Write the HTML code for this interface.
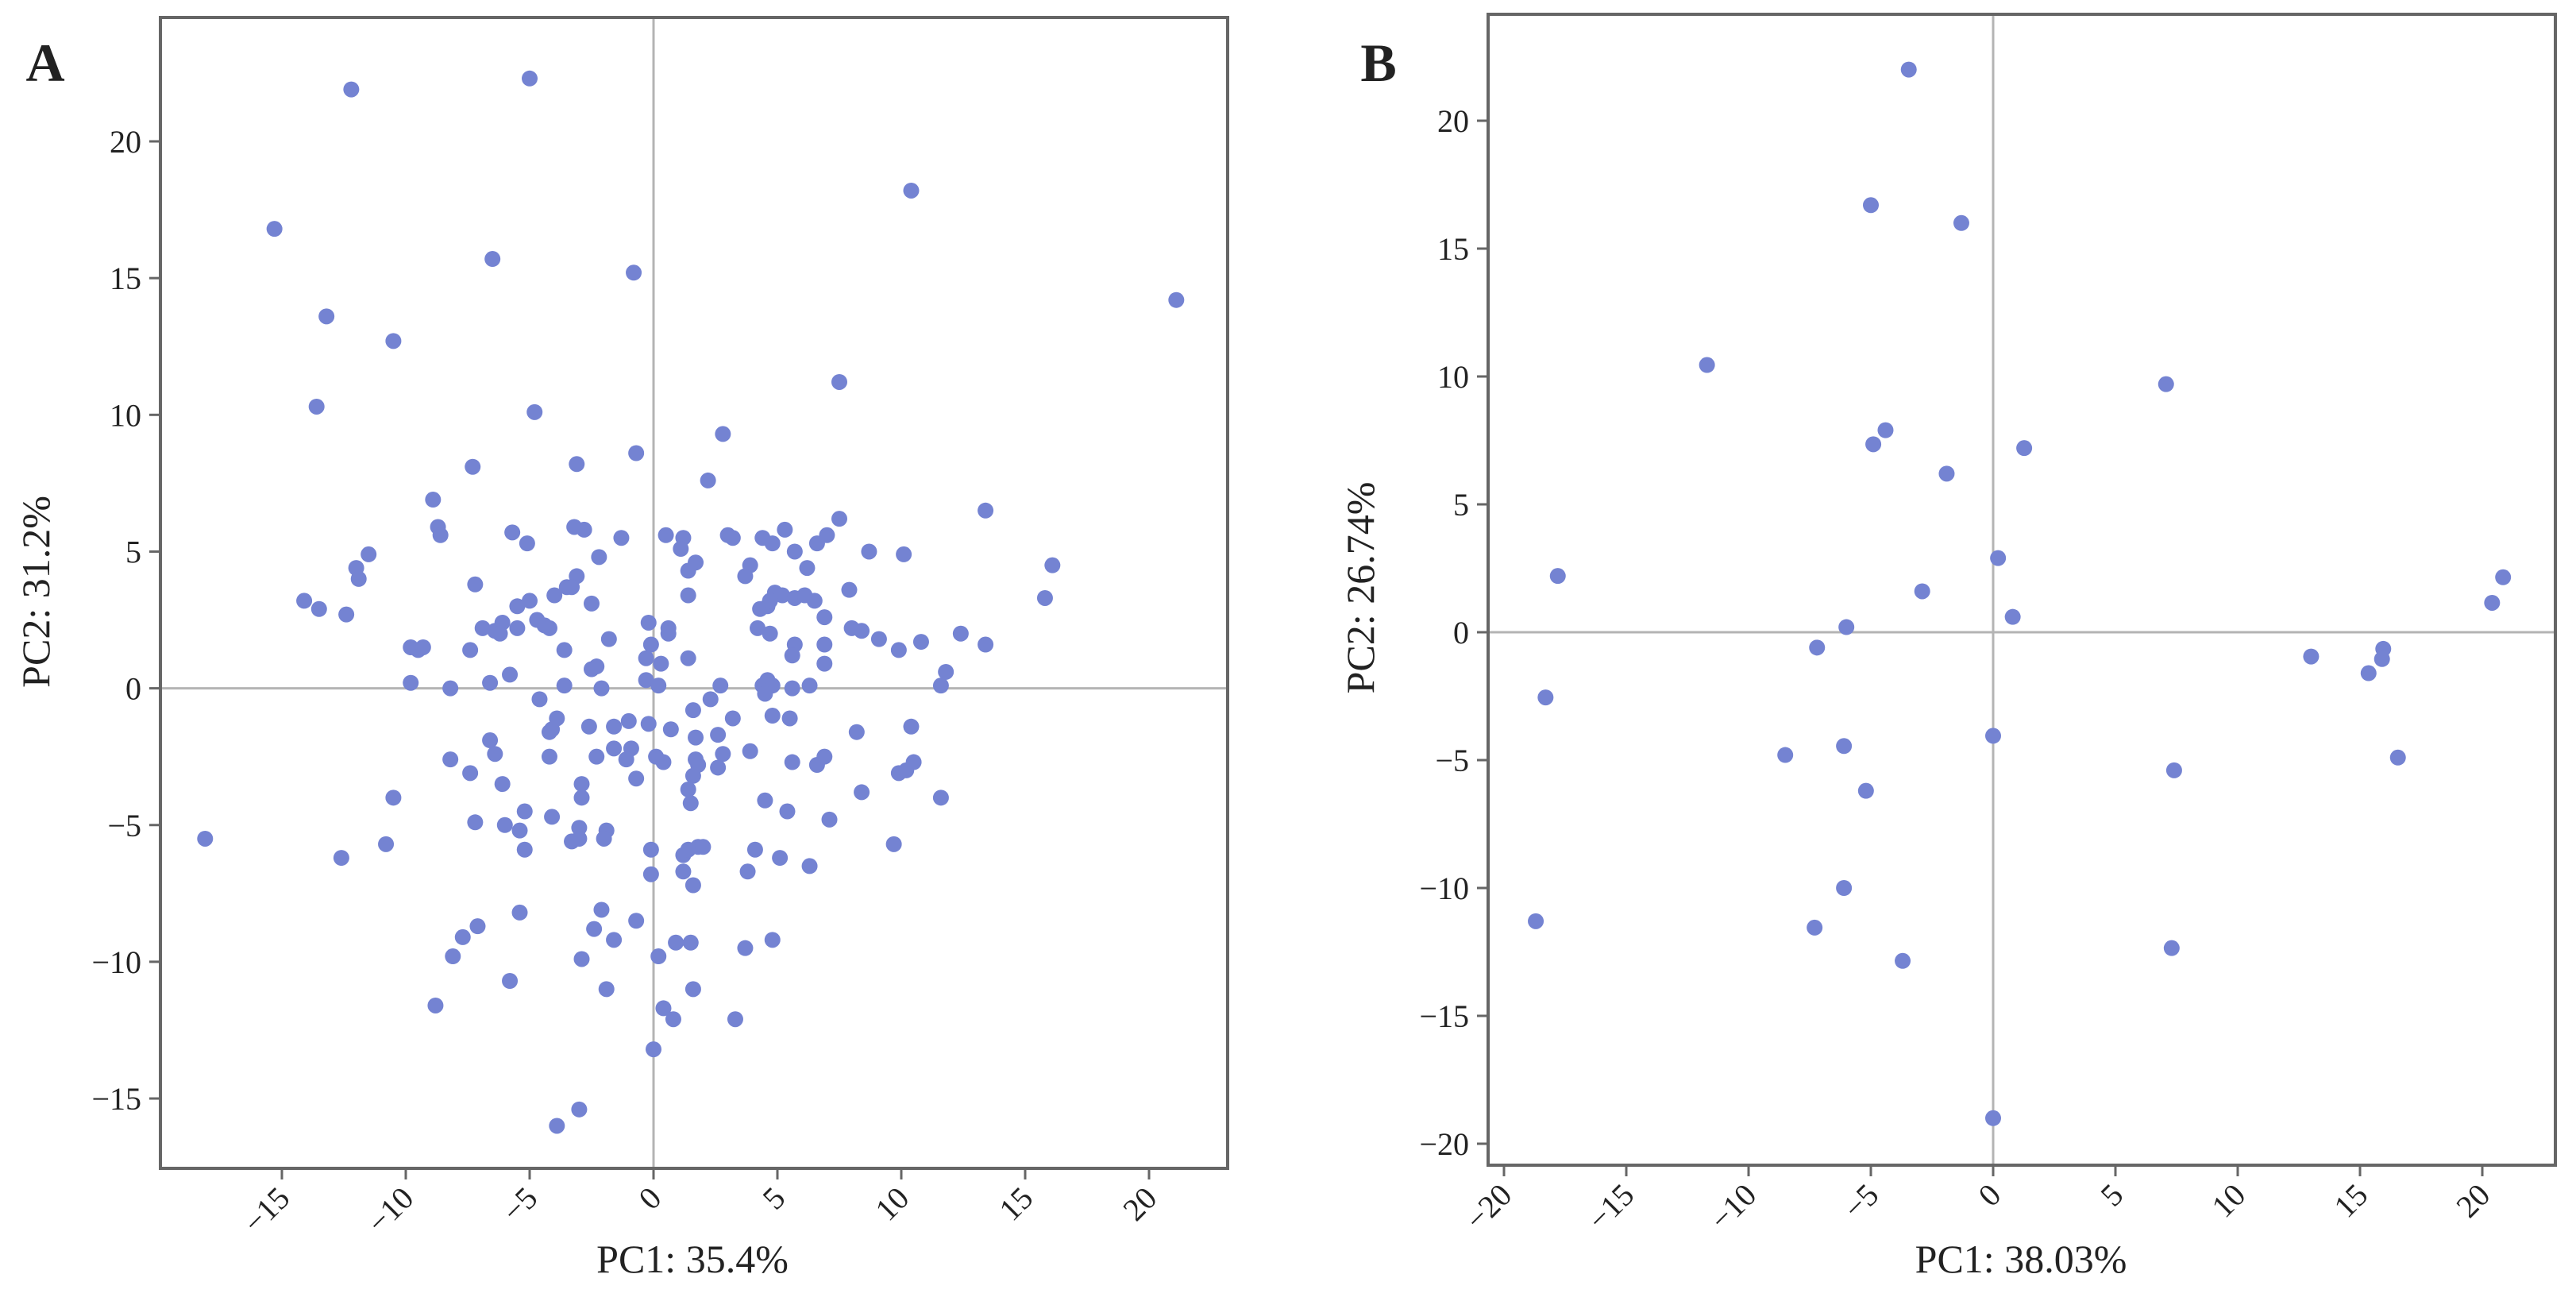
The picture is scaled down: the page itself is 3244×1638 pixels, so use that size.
<!DOCTYPE html>
<html><head><meta charset="utf-8"><style>
html,body{margin:0;padding:0;background:#fff}
svg text{font-family:"Liberation Serif",serif;fill:#222}
</style></head><body>
<svg id="fig" width="3244" height="1633" viewBox="0 0 3244 1633" xmlns="http://www.w3.org/2000/svg"></svg>
<script>
const aX=[-12.2,-5.0,-15.3,-6.5,-0.8,-13.2,-10.5,-13.6,-4.8,10.4,21.1,7.5,2.8,-0.7,-3.1,-7.3,2.2,-8.9,-8.7,-8.6,-11.5,-12.0,-11.9,-14.1,-13.5,-12.4,-7.2,-5.7,-5.1,-3.2,-2.8,-2.2,-1.3,0.5,1.2,1.1,1.7,1.4,1.4,3.0,3.2,3.9,3.7,4.4,4.8,5.3,5.7,6.2,6.6,7.0,7.5,8.7,10.1,13.4,16.1,15.8,7.9,6.9,8.0,8.4,9.1,9.9,10.8,12.4,13.4,11.8,11.6,6.9,6.9,6.3,5.7,5.6,4.9,5.2,5.7,6.1,6.5,4.3,4.6,4.7,4.2,4.7,4.4,4.6,4.8,4.5,5.6,2.7,-0.2,0.6,0.6,-0.1,-0.3,0.3,1.4,-0.3,0.2,-1.8,-2.5,-2.3,-2.1,-3.6,-3.6,-2.5,-3.1,-3.5,-3.3,-4.0,-5.0,-5.5,-5.5,-4.7,-4.4,-4.2,-6.1,-6.4,-6.2,-6.9,-7.4,-9.8,-9.5,-9.3,-9.8,-8.2,-6.6,-5.8,-4.6,-3.9,-4.1,-4.2,-4.2,-6.6,-6.4,-8.2,-7.4,-6.1,-2.6,-1.6,-1.0,-0.2,-1.6,-2.3,-0.9,-1.1,-0.7,-2.9,-2.9,0.1,0.4,0.7,1.6,1.7,2.3,3.2,2.6,2.8,2.6,1.7,1.8,1.6,1.4,1.5,3.9,4.8,5.5,5.6,6.6,6.9,8.2,10.4,9.9,10.2,10.5,11.6,8.4,7.1,4.5,5.4,5.1,6.3,4.1,3.8,9.7,4.8,3.7,3.3,1.5,0.9,1.6,0.2,0.4,0.8,0.0,-0.1,-0.1,1.2,1.4,1.8,2.0,1.2,1.6,-0.7,-2.1,-1.9,-2.0,-3.0,-3.0,-3.3,-4.1,-5.2,-5.4,-5.2,-6.0,-7.2,-10.5,-10.8,-12.6,-18.1,-5.4,-7.1,-7.7,-8.1,-5.8,-8.8,-2.4,-1.6,-2.9,-1.9,-3.0,-3.9];
const aY=[21.9,22.3,16.8,15.7,15.2,13.6,12.7,10.3,10.1,18.2,14.2,11.2,9.3,8.6,8.2,8.1,7.6,6.9,5.9,5.6,4.9,4.4,4.0,3.2,2.9,2.7,3.8,5.7,5.3,5.9,5.8,4.8,5.5,5.6,5.5,5.1,4.6,4.3,3.4,5.6,5.5,4.5,4.1,5.5,5.3,5.8,5.0,4.4,5.3,5.6,6.2,5.0,4.9,6.5,4.5,3.3,3.6,2.6,2.2,2.1,1.8,1.4,1.7,2.0,1.6,0.6,0.1,1.6,0.9,0.1,1.6,1.2,3.5,3.4,3.3,3.4,3.2,2.9,3.0,3.2,2.2,2.0,0.1,0.3,0.1,-0.2,0.0,0.1,2.4,2.2,2.0,1.6,1.1,0.9,1.1,0.3,0.1,1.8,0.7,0.8,0.0,1.4,0.1,3.1,4.1,3.7,3.7,3.4,3.2,3.0,2.2,2.5,2.3,2.2,2.4,2.1,2.0,2.2,1.4,1.5,1.4,1.5,0.2,0.0,0.2,0.5,-0.4,-1.1,-1.5,-1.6,-2.5,-1.9,-2.4,-2.6,-3.1,-3.5,-1.4,-1.4,-1.2,-1.3,-2.2,-2.5,-2.2,-2.6,-3.3,-3.5,-4.0,-2.5,-2.7,-1.5,-0.8,-1.8,-0.4,-1.1,-1.7,-2.4,-2.9,-2.6,-2.8,-3.2,-3.7,-4.2,-2.3,-1.0,-1.1,-2.7,-2.8,-2.5,-1.6,-1.4,-3.1,-3.0,-2.7,-4.0,-3.8,-4.8,-4.1,-4.5,-6.2,-6.5,-5.9,-6.7,-5.7,-9.2,-9.5,-12.1,-9.3,-9.3,-11.0,-9.8,-11.7,-12.1,-13.2,-5.9,-6.8,-6.1,-5.9,-5.8,-5.8,-6.7,-7.2,-8.5,-8.1,-5.2,-5.5,-5.1,-5.5,-5.6,-4.7,-4.5,-5.2,-5.9,-5.0,-4.9,-4.0,-5.7,-6.2,-5.5,-8.2,-8.7,-9.1,-9.8,-10.7,-11.6,-8.8,-9.2,-9.9,-11.0,-15.4,-16.0];
const bX=[-3.45,-5.0,-1.3,-11.7,7.07,-4.4,-4.9,1.27,-1.9,0.2,-2.9,0.8,-17.8,-6.0,-7.2,-18.3,0.0,-8.5,-6.1,-5.2,-6.1,-7.3,-3.7,-18.7,0.0,7.4,7.3,13.0,15.35,15.95,15.9,16.55,20.4,20.85];
const bY=[22.0,16.7,16.0,10.45,9.7,7.9,7.35,7.2,6.2,2.9,1.6,0.6,2.2,0.2,-0.6,-2.55,-4.05,-4.8,-4.45,-6.2,-10.0,-11.55,-12.85,-11.3,-19.0,-5.4,-12.35,-0.95,-1.6,-0.65,-1.05,-4.9,1.15,2.15];
const aXTicks=[-15,-10,-5,0,5,10,15,20];
const aYTicks=[-15,-10,-5,0,5,10,15,20];
const bXTicks=[-20,-15,-10,-5,0,5,10,15,20];
const bYTicks=[-20,-15,-10,-5,0,5,10,15,20];

const NS="http://www.w3.org/2000/svg";
const svg=document.getElementById('fig');
function mk(tag,attrs,parent){const e=document.createElementNS(NS,tag);for(const k in attrs)e.setAttribute(k,attrs[k]);(parent||svg).appendChild(e);return e;}

function panel(p){
  const g=mk('g',{});
  
  
  const sx=v=>p.x0+v*p.kx, sy=v=>p.y0-v*p.ky;
  const zv=mk('line',{x1:sx(0),x2:sx(0),y1:p.top,y2:p.bottom,stroke:'#b4b4b4','stroke-width':3},g);
  
  
  const zh=mk('line',{x1:p.left,x2:p.right,y1:sy(0),y2:sy(0),stroke:'#b4b4b4','stroke-width':3},g);
  
  
  for(let i=0;i<p.xs.length;i++){
    const c=mk('circle',{cx:sx(p.xs[i]),cy:sy(p.ys[i]),r:10,fill:'#7483d2'},g);
    
    
  }
  const fr=mk('rect',{x:p.left,y:p.top,width:p.right-p.left,height:p.bottom-p.top,fill:'none',stroke:'#666','stroke-width':4},g);
  
  
  p.xt.forEach(t=>{
    const X=sx(t);
    const l=mk('line',{x1:X,x2:X,y1:p.bottom,y2:p.bottom+14,stroke:'#666','stroke-width':3},g);
    
    
    const ax=X+12, ay=p.bottom+40;
    const tx=mk('text',{x:ax,y:ay,'font-size':40,'text-anchor':'end',transform:`rotate(-45 ${ax} ${ay})`},g);
    tx.textContent=t<0?'\u2212'+(-t):String(t);
    
    
  });
  p.yt.forEach(t=>{
    const Y=sy(t);
    const l=mk('line',{x1:p.left-14,x2:p.left,y1:Y,y2:Y,stroke:'#666','stroke-width':3},g);
    
    
    const tx=mk('text',{x:p.left-24,y:Y+14,'font-size':40,'text-anchor':'end'},g);
    tx.textContent=t<0?'\u2212'+(-t):String(t);
    
    
  });
  const xt=mk('text',{x:p.xtx,y:1602,'font-size':50,'text-anchor':'middle'},g);
  xt.textContent=p.xlabel;
  
  
  const yt=mk('text',{x:p.ytx,y:p.yty,'font-size':50,'text-anchor':'middle',transform:`rotate(-90 ${p.ytx} ${p.yty})`},g);
  yt.textContent=p.ylabel;
  
  
  const lt=mk('text',{x:p.lx,y:102,'font-size':68,'font-weight':'bold','text-anchor':'middle'},g);
  lt.textContent=p.letter;
  
  
}

panel({name:'panel-a',xs:aX,ys:aY,xt:aXTicks,yt:aYTicks,left:202,right:1546,top:22,bottom:1471,
  x0:823,kx:31.2,y0:866.6,ky:34.43,xlabel:'PC1: 35.4%',ylabel:'PC2: 31.2%',xtx:872,ytx:62,yty:745,lx:57,letter:'A'});
panel({name:'panel-b',xs:bX,ys:bY,xt:bXTicks,yt:bYTicks,left:1874,right:3218,top:18,bottom:1467,
  x0:2510,kx:30.8,y0:796,ky:32.2,xlabel:'PC1: 38.03%',ylabel:'PC2: 26.74%',xtx:2545,ytx:1730,yty:740,lx:1736,letter:'B'});
</script>
</body></html>
